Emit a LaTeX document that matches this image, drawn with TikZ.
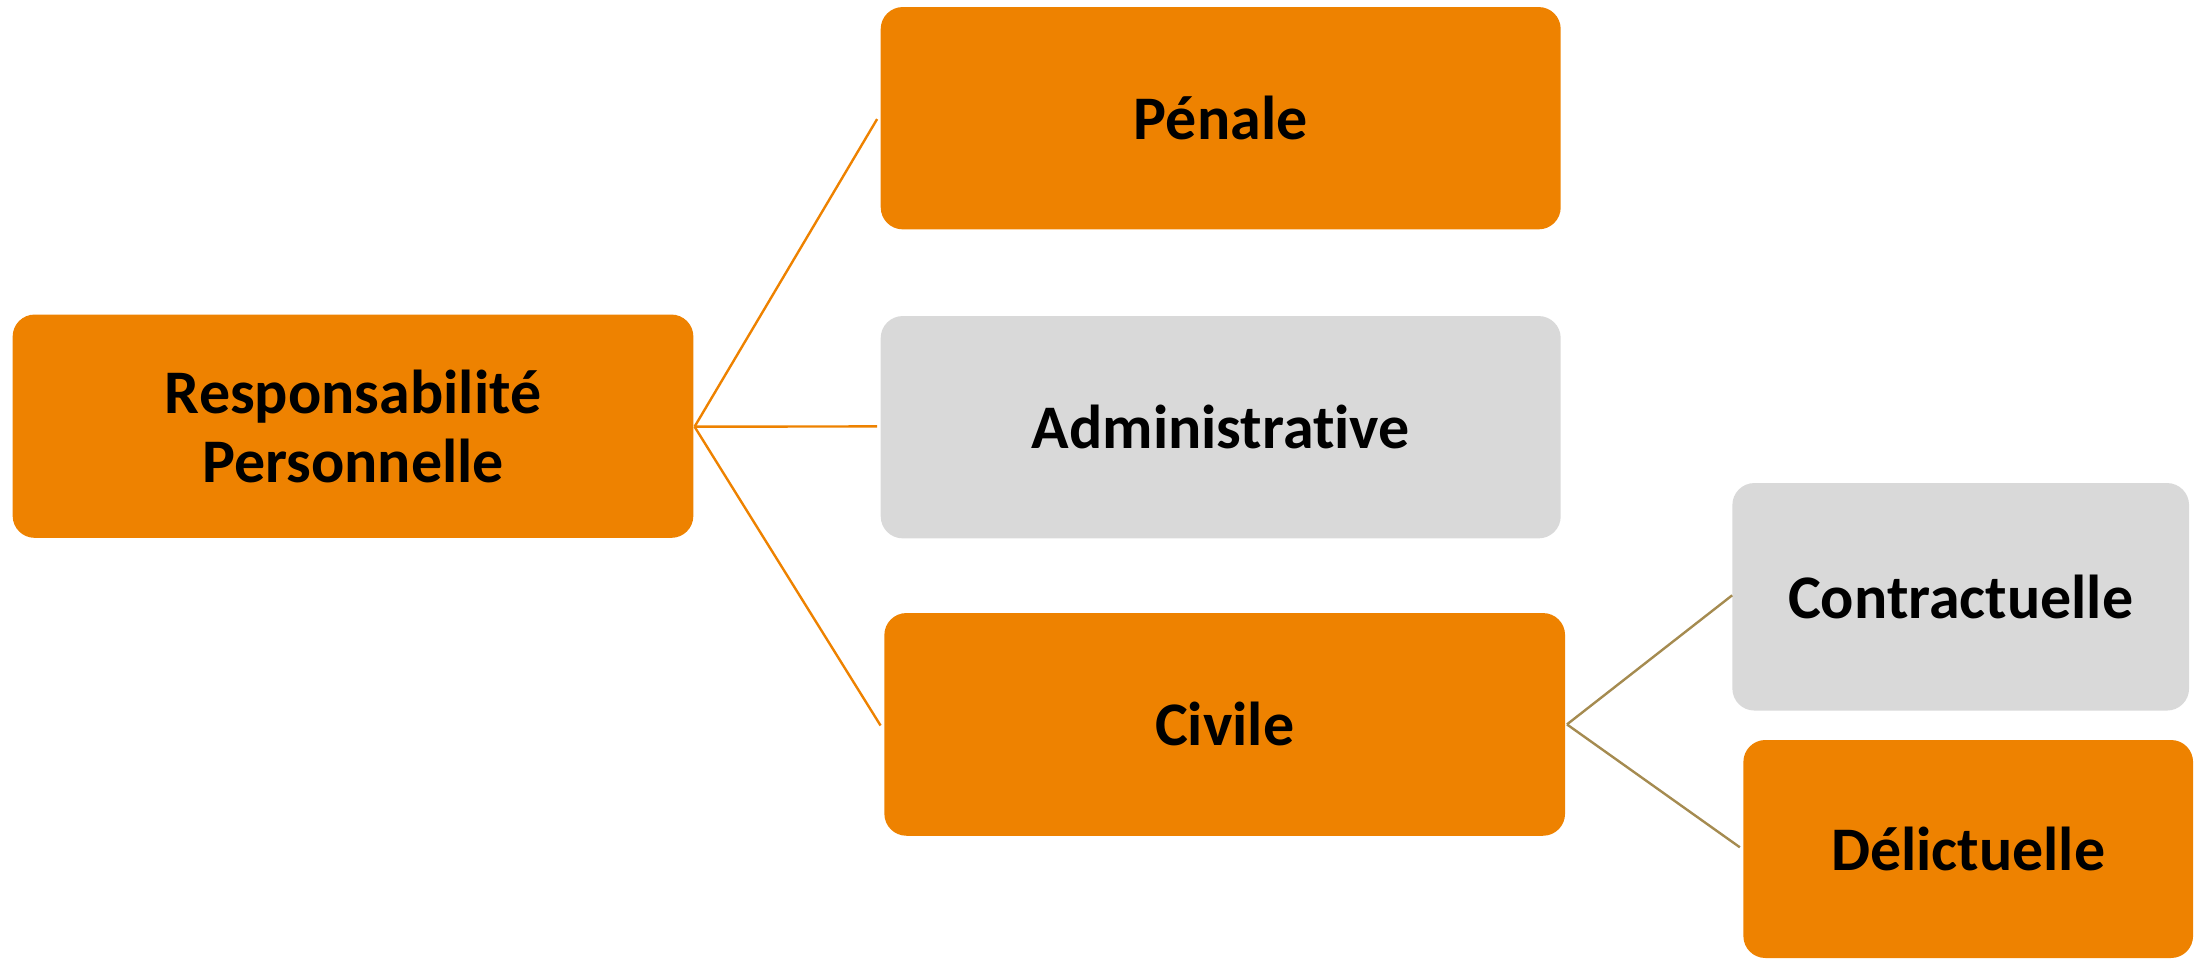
\documentclass[tikz,border=0pt]{standalone}
\usepackage{fontspec}
\setmainfont{Carlito}[Ligatures={NoCommon}]
\definecolor{boxorange}{RGB}{238,130,0}
\definecolor{boxgray}{RGB}{217,217,217}
\definecolor{linktan}{RGB}{165,139,80}
\begin{document}
\begin{tikzpicture}[x=1pt,y=-1pt,
  box/.style={rectangle, rounded corners=22pt, inner sep=0pt, draw=none, align=center,
    font=\fontsize{62}{69}\selectfont\bfseries, text=black},
  obox/.style={box, fill=boxorange},
  gbox/.style={box, fill=boxgray},
  olink/.style={draw=boxorange, line width=2.4pt},
  tlink/.style={draw=linktan, line width=2.4pt}]
\useasboundingbox (0,0) rectangle (2202,960);
\node[obox, minimum width=680.7pt, minimum height=223.3pt] (resp) at (353,426.2) {Responsabilité\\Personnelle};
\node[obox, minimum width=680pt, minimum height=222.3pt] (pen) at (1220.7,118.2) {Pénale};
\node[gbox, minimum width=680pt, minimum height=222.3pt] (adm) at (1220.7,427.2) {Administrative};
\node[obox, minimum width=680.7pt, minimum height=222.7pt] (civ) at (1224.7,724.4) {Civile};
\node[gbox, minimum width=456.7pt, minimum height=227.5pt] (con) at (1960.7,596.8) {Contractuelle};
\node[obox, minimum width=449.7pt, minimum height=218pt] (del) at (1968.2,849) {Délictuelle};
\coordinate (rj) at ([xshift=1pt,yshift=-0.5pt]resp.east);
\coordinate (cj) at ([xshift=1.7pt]civ.east);
\draw[olink] (rj) -- ([xshift=-3.4pt,yshift=-0.9pt]pen.west);
\draw[olink] (rj) -- ([xshift=-3.4pt,yshift=0.8pt]adm.west);
\draw[olink] (rj) -- ([xshift=-3.6pt,yshift=-1.1pt]civ.west);
\draw[tlink] (cj) -- ([yshift=1.5pt]con.west);
\draw[tlink] (cj) -- ([xshift=-3.3pt,yshift=1.7pt]del.west);
\end{tikzpicture}
\end{document}
